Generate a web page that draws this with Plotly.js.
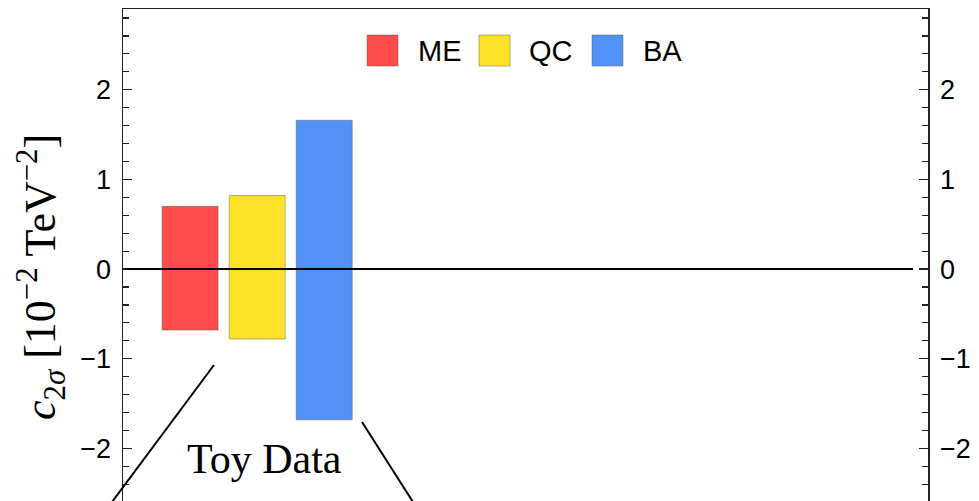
<!DOCTYPE html>
<html>
<head>
<meta charset="utf-8">
<script src="https://cdn.plot.ly/plotly-3.0.1.min.js"></script>
<style>
  html, body { margin: 0; padding: 0; background: #fff; overflow: hidden; }
  #chart { width: 979px; height: 501px; }
</style>
</head>
<body>
<div id="chart"></div>
<script>
// Bounds for each method: upper and lower edge of the band
const methods = ['ME', 'QC', 'BA'];
const positions = [1, 2, 3];
const upperBound = [0.70, 0.82, 1.66];
const lowerBound = [-0.68, -0.78, -1.68];
const fillColors = ['#FF4B4B', '#FDE227', '#5292F6'];
const tickValues = [-2, -1, 0, 1, 2];
const tickLabels = ['\u22122', '\u22121', '0', '1', '2'];
const panelLabel = 'Toy Data';

const W = 979, H = 501;
const M = { l: 123, r: 51, t: 9, b: 0 };
const plotW = W - M.l - M.r, plotH = H - M.t - M.b;
const px = x => (x - M.l) / plotW;
const py = y => (H - M.b - y) / plotH;

const yRange = [-2.586, 2.90];

const traces = methods.map((name, i) => ({
  type: 'bar',
  name: name,
  x: [positions[i]],
  base: [lowerBound[i]],
  y: [upperBound[i] - lowerBound[i]],
  width: 0.835,
  marker: { color: fillColors[i], line: { color: 'rgba(90,90,90,0.45)', width: 1 } },
  showlegend: false,
  hoverinfo: 'skip'
}));

// invisible trace carrying the mirrored right-hand axis
traces.push({ type: 'scatter', x: [positions[0]], y: [0], yaxis: 'y2',
  mode: 'markers', marker: { opacity: 0 }, showlegend: false, hoverinfo: 'skip' });

const axisStyle = {
  range: yRange,
  tickvals: tickValues,
  ticktext: tickLabels,
  ticks: 'inside',
  ticklen: 9,
  tickwidth: 1.3,
  tickcolor: '#222',
  ticklabelstandoff: 5,
  showline: true,
  linecolor: '#222',
  linewidth: 1.5,
  showgrid: false,
  zeroline: false,
  tickfont: { family: 'Liberation Sans, Arial, sans-serif', size: 27, color: '#000' },
  minor: { dtick: 0.2, ticks: 'inside', ticklen: 6, tickwidth: 1.2, tickcolor: '#222', showgrid: false }
};

const shapes = [
  // zero reference line
  { type: 'line', xref: 'paper', yref: 'y', x0: px(125), x1: px(913), y0: 0, y1: 0,
    line: { color: '#000', width: 2 } },
  // connector lines toward the panel below
  { type: 'line', xref: 'paper', yref: 'paper', x0: px(214), y0: py(365), x1: px(112), y1: py(502),
    line: { color: '#000', width: 2 } },
  { type: 'line', xref: 'paper', yref: 'paper', x0: px(362), y0: py(422), x1: px(413), y1: py(502),
    line: { color: '#000', width: 2 } }
];

const annotations = [
  { xref: 'paper', yref: 'paper', x: px(264), y: py(459), text: panelLabel, showarrow: false,
    xanchor: 'center', yanchor: 'middle',
    font: { family: 'Liberation Serif, Times New Roman, serif', size: 42, color: '#000' } },
  { xref: 'paper', yref: 'paper', x: px(41), y: py(277), textangle: -90, showarrow: false,
    xanchor: 'center', yanchor: 'middle',
    text: '<i>c</i><sub>2<i>\u03C3</i></sub> [10<sup>\u22122</sup> TeV<sup>\u22122</sup>]',
    font: { family: 'Liberation Serif, Times New Roman, serif', size: 44, color: '#000' } }
];

// legend: swatches and labels
const swatchX = [367, 479, 592];
const labelX = [416, 527, 641];
methods.forEach((name, i) => {
  shapes.push({ type: 'rect', xref: 'paper', yref: 'paper',
    x0: px(swatchX[i]), x1: px(swatchX[i] + 31), y0: py(66), y1: py(35),
    fillcolor: fillColors[i], line: { color: 'rgba(90,90,90,0.45)', width: 1 } });
  annotations.push({ xref: 'paper', yref: 'paper', x: px(labelX[i]), y: py(51),
    xanchor: 'left', yanchor: 'middle', showarrow: false, text: name,
    font: { family: 'Liberation Sans, Arial, sans-serif', size: 29, color: '#000' } });
});

const layout = {
  width: W, height: H,
  margin: M,
  paper_bgcolor: '#fff',
  plot_bgcolor: '#fff',
  showlegend: false,
  xaxis: {
    range: [0, 12],
    side: 'top',
    showline: true, linecolor: '#222', linewidth: 1.5,
    showticklabels: false, ticks: '', showgrid: false, zeroline: false
  },
  yaxis: Object.assign({}, axisStyle, { side: 'left' }),
  yaxis2: Object.assign({}, axisStyle, { side: 'right', overlaying: 'y', matches: 'y' }),
  shapes: shapes,
  annotations: annotations
};

Plotly.newPlot('chart', traces, layout, { staticPlot: true, displayModeBar: false });
</script>
</body>
</html>
